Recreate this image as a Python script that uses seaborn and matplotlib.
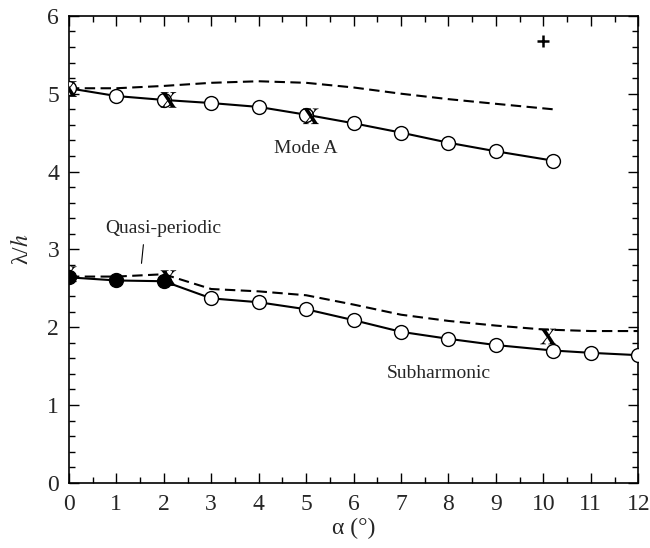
import matplotlib
matplotlib.use("Agg")
import matplotlib.pyplot as plt
from matplotlib.ticker import MultipleLocator
import seaborn as sns
import pandas as pd

# Mode A (solid line, open circles)
modeA_alpha = [0, 1, 2, 3, 4, 5, 6, 7, 8, 9, 10.2]
modeA_lam = [5.07, 4.97, 4.92, 4.88, 4.83, 4.73, 4.62, 4.50, 4.37, 4.26, 4.14]
# Mode A dashed curve
modeA_dash_alpha = [0, 1, 2, 3, 4, 5, 6, 7, 8, 9, 10.2]
modeA_dash_lam = [5.07, 5.07, 5.10, 5.14, 5.16, 5.14, 5.08, 5.00, 4.93, 4.87, 4.80]

# Subharmonic (solid line); first three points quasi-periodic (filled)
sub_alpha = [0, 1, 2, 3, 4, 5, 6, 7, 8, 9, 10.2, 11, 12]
sub_lam = [2.64, 2.60, 2.59, 2.37, 2.32, 2.23, 2.09, 1.94, 1.85, 1.77, 1.70, 1.67, 1.64]
sub_filled = [True, True, True] + [False] * 10
# Subharmonic dashed curve
sub_dash_alpha = [0, 1, 2, 3, 4, 5, 6, 7, 8, 9, 10, 11, 12]
sub_dash_lam = [2.65, 2.65, 2.68, 2.49, 2.46, 2.41, 2.29, 2.16, 2.08, 2.02, 1.97, 1.95, 1.95]

# 'X' markers and '+' marker
x_alpha = [0, 2.1, 5.1, 0, 2.1, 10.1]
x_lam = [5.06, 4.92, 4.71, 2.68, 2.63, 1.88]
plus_alpha = [10]
plus_lam = [5.68]

sns.set_style("ticks")
plt.rcParams['font.family'] = ['Liberation Serif', 'DejaVu Serif']
plt.rcParams['mathtext.fontset'] = 'stix'

fig = plt.figure(figsize=(6.5, 5.48), dpi=100)
ax = fig.add_axes([0.106, 0.119, 0.876, 0.852])

# dashed curves
sns.lineplot(x=modeA_dash_alpha, y=modeA_dash_lam, ax=ax, color='black', lw=1.5,
             linestyle=(0, (5, 2.6)))
sns.lineplot(x=sub_dash_alpha, y=sub_dash_lam, ax=ax, color='black', lw=1.5,
             linestyle=(0, (5, 2.6)))
# solid curves
sns.lineplot(x=modeA_alpha, y=modeA_lam, ax=ax, color='black', lw=1.5)
sns.lineplot(x=sub_alpha, y=sub_lam, ax=ax, color='black', lw=1.5)

sns.scatterplot(x=modeA_alpha, y=modeA_lam, ax=ax, s=100, facecolor='white',
                edgecolor='black', linewidth=1.0, zorder=3)
sub_df = pd.DataFrame({'a': sub_alpha, 'l': sub_lam, 'f': sub_filled})
open_df = sub_df[~sub_df['f']]
fill_df = sub_df[sub_df['f']]
sns.scatterplot(data=open_df, x='a', y='l', ax=ax, s=100, facecolor='white',
                edgecolor='black', linewidth=1.0, zorder=3)
sns.scatterplot(data=fill_df, x='a', y='l', ax=ax, s=100, color='black',
                edgecolor='black', linewidth=1.0, zorder=3)
sns.scatterplot(x=x_alpha, y=x_lam, ax=ax, marker=r'$\mathbf{X}$', s=130,
                color='black', edgecolor='none', zorder=4)
sns.scatterplot(x=plus_alpha, y=plus_lam, ax=ax, marker='+', s=80,
                color='black', linewidth=1.8, zorder=4)

ax.text(5.0, 4.30, 'Mode A', fontsize=14, ha='center', va='center')
ax.text(2.0, 3.27, 'Quasi-periodic', fontsize=14, ha='center', va='center')
ax.plot([1.57, 1.53], [3.06, 2.82], color='black', lw=0.8)
ax.text(7.8, 1.40, 'Subharmonic', fontsize=14, ha='center', va='center')

ax.set_xlim(0, 12)
ax.set_ylim(0, 6)
ax.xaxis.set_major_locator(MultipleLocator(1))
ax.xaxis.set_minor_locator(MultipleLocator(0.5))
ax.yaxis.set_major_locator(MultipleLocator(1))
ax.yaxis.set_minor_locator(MultipleLocator(0.2))
ax.tick_params(which='both', direction='in', top=True, right=True,
               labelsize=17, width=1.0, color='black')
ax.tick_params(which='major', length=7.5)
ax.tick_params(which='minor', length=4.3)
ax.tick_params(axis='x', which='major', pad=8)
ax.tick_params(axis='y', which='major', pad=7)
for sp in ax.spines.values():
    sp.set_linewidth(1.2)
    sp.set_color('black')

ax.set_xlabel('α (°)', fontsize=17, labelpad=2)
ax.set_ylabel('λ/$h$', fontsize=17, labelpad=10)

fig.savefig('out.png', dpi=100)
